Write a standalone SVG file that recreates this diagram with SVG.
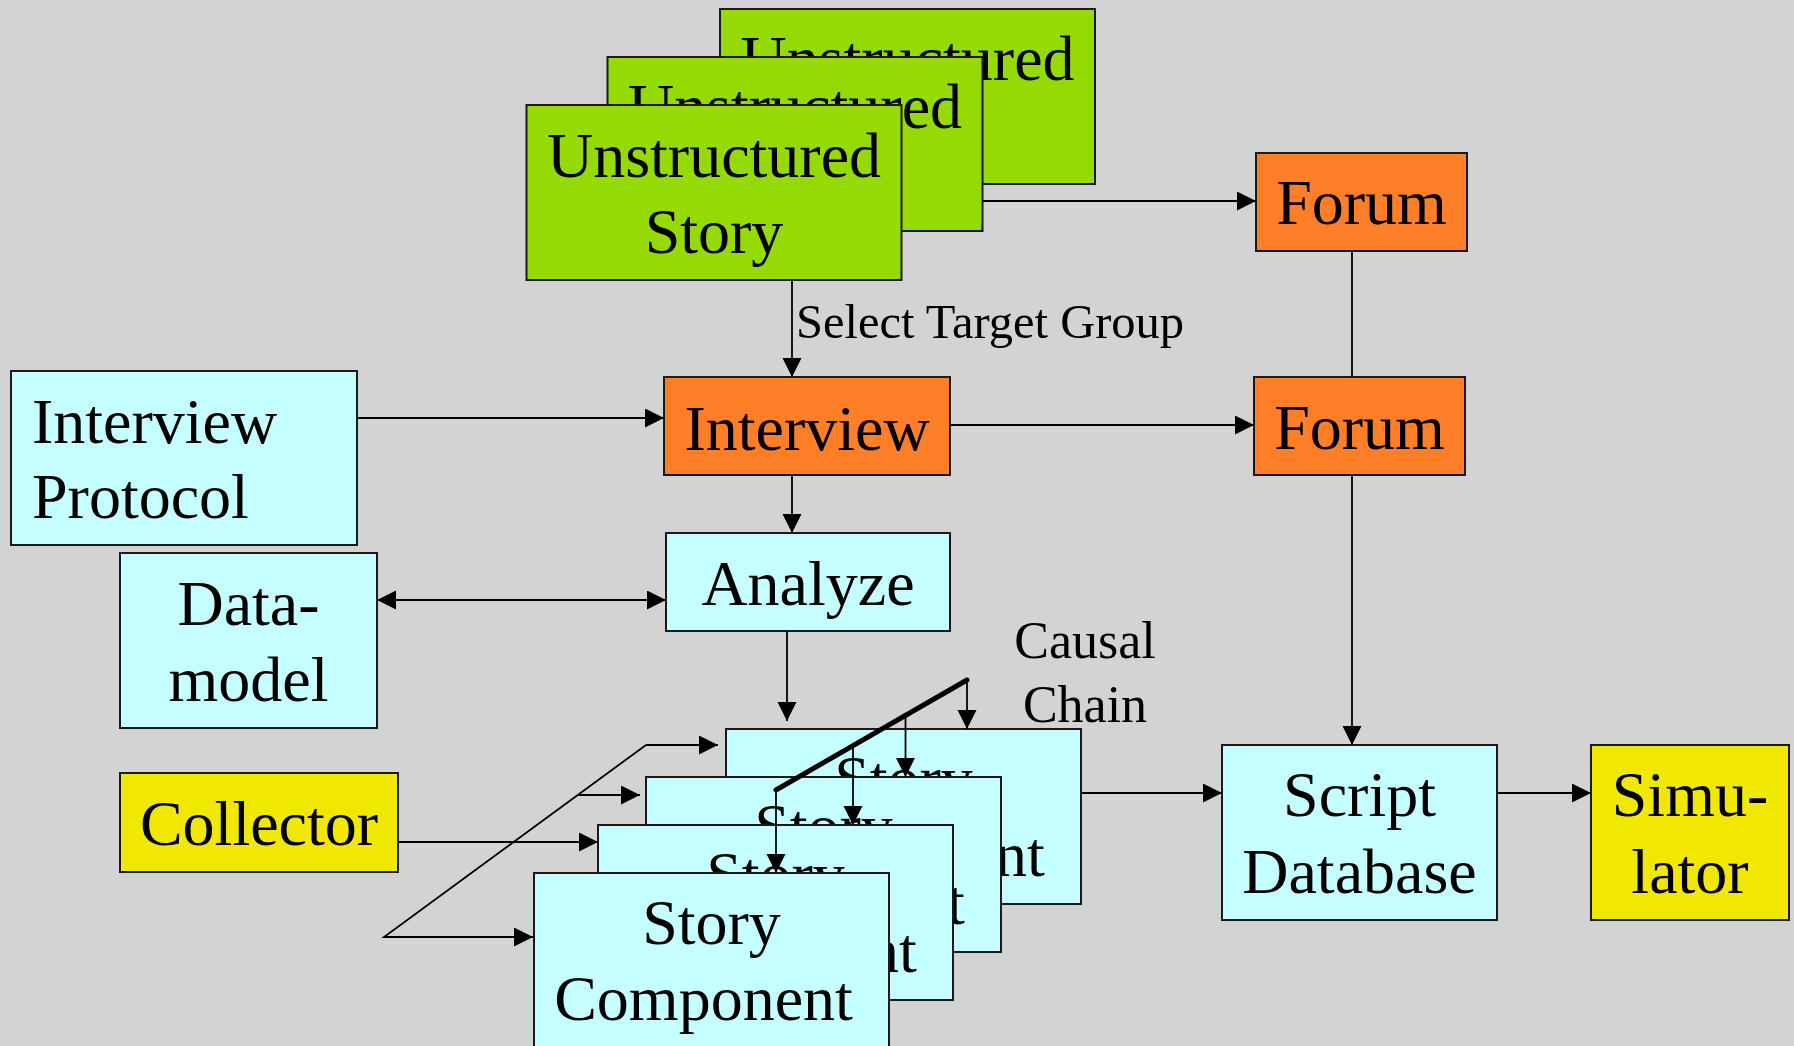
<svg xmlns="http://www.w3.org/2000/svg" width="1794" height="1046" viewBox="0 0 1794 1046">
  <style>
    .box { stroke: #1a1a1a; stroke-width: 2; }
    .green { fill: #95da04; }
    .orange { fill: #ff7f29; }
    .cyan { fill: #c6ffff; }
    .yellow { fill: #f0e800; }
    .lbl { font-family: "Liberation Serif", "Times New Roman", serif; font-size: 64px; fill: #000; text-anchor: middle; }
    .left { text-anchor: start; }
    .note { font-family: "Liberation Serif", "Times New Roman", serif; fill: #000; }
    .wire { fill: none; stroke: #000; stroke-width: 1.8; }
    .arrow { marker-end: url(#head); }
    .both { marker-start: url(#head); marker-end: url(#head); }
    .chain { fill: none; stroke: #000; stroke-width: 5; stroke-linecap: round; }
  </style>
  <defs>
    <marker id="head" markerUnits="userSpaceOnUse" markerWidth="20" markerHeight="20" refX="19" refY="9.5" orient="auto-start-reverse">
      <path d="M0,0 L19,9.5 L0,19 z" fill="#000"/>
    </marker>
  </defs>

  <rect x="0" y="0" width="1794" height="1046" fill="#d3d3d3"/>

  <!-- stacked unstructured stories, back to front -->
  <g id="unstructured-story-3">
    <rect class="box green" x="720" y="9" width="375" height="175"/>
    <text class="lbl" x="907.5" y="80">Unstructured</text>
  </g>
  <g id="unstructured-story-2">
    <rect class="box green" x="607.5" y="57" width="375" height="174"/>
    <text class="lbl" x="795" y="128">Unstructured</text>
  </g>
  <g id="unstructured-story-1">
    <rect class="box green" x="526.5" y="105" width="375" height="175"/>
    <text class="lbl" x="714" y="177">Unstructured</text>
    <text class="lbl" x="714" y="253">Story</text>
  </g>

  <g id="forum-top">
    <rect class="box orange" x="1256" y="153" width="211" height="98"/>
    <text class="lbl" x="1361.5" y="224">Forum</text>
  </g>

  <g id="interview-protocol">
    <rect class="box cyan" x="11" y="371" width="346" height="174"/>
    <text class="lbl left" x="32" y="443">Interview</text>
    <text class="lbl left" x="32" y="518">Protocol</text>
  </g>

  <g id="interview">
    <rect class="box orange" x="664" y="377" width="286" height="98"/>
    <text class="lbl" x="807" y="450">Interview</text>
  </g>

  <g id="forum-bottom">
    <rect class="box orange" x="1254" y="377" width="211" height="98"/>
    <text class="lbl" x="1359.5" y="449">Forum</text>
  </g>

  <g id="data-model">
    <rect class="box cyan" x="120" y="553" width="257" height="175"/>
    <text class="lbl" x="248.5" y="625">Data-</text>
    <text class="lbl" x="248.5" y="701">model</text>
  </g>

  <g id="analyze">
    <rect class="box cyan" x="666" y="533" width="284" height="98"/>
    <text class="lbl" x="808" y="605">Analyze</text>
  </g>

  <g id="collector">
    <rect class="box yellow" x="120" y="773" width="278" height="99"/>
    <text class="lbl" x="259" y="845">Collector</text>
  </g>

  <!-- stacked story components, back to front -->
  <g id="story-component-4">
    <rect class="box cyan" x="726" y="729" width="355" height="175"/>
    <text class="lbl" x="903.5" y="800">Story</text>
    <text class="lbl" x="895.5" y="876">Component</text>
  </g>
  <g id="story-component-3">
    <rect class="box cyan" x="646" y="777" width="355" height="175"/>
    <text class="lbl" x="823.5" y="848">Story</text>
    <text class="lbl" x="815.5" y="924">Component</text>
  </g>
  <g id="story-component-2">
    <rect class="box cyan" x="598" y="825" width="355" height="175"/>
    <text class="lbl" x="775.5" y="896">Story</text>
    <text class="lbl" x="767.5" y="972">Component</text>
  </g>
  <g id="story-component-1">
    <rect class="box cyan" x="534" y="873" width="355" height="176"/>
    <text class="lbl" x="711.5" y="944">Story</text>
    <text class="lbl" x="703.5" y="1020">Component</text>
  </g>

  <g id="script-database">
    <rect class="box cyan" x="1222" y="745" width="275" height="175"/>
    <text class="lbl" x="1359.5" y="816">Script</text>
    <text class="lbl" x="1359.5" y="893">Database</text>
  </g>

  <g id="simulator">
    <rect class="box yellow" x="1591" y="745" width="198" height="175"/>
    <text class="lbl" x="1690" y="816">Simu-</text>
    <text class="lbl" x="1690" y="893">lator</text>
  </g>

  <g id="connectors">
    <!-- stories feed the forum and the interview -->
    <line class="wire arrow" x1="983" y1="201" x2="1256" y2="201"/>
    <line class="wire arrow" x1="792" y1="280" x2="792" y2="377"/>
    <text class="note" x="796" y="338" font-size="48.5">Select Target Group</text>
    <line class="wire" x1="1352" y1="251" x2="1352" y2="377"/>

    <!-- interview flow -->
    <line class="wire arrow" x1="357" y1="418" x2="664" y2="418"/>
    <line class="wire arrow" x1="950" y1="425" x2="1254" y2="425"/>
    <line class="wire arrow" x1="792" y1="475" x2="792" y2="533"/>
    <line class="wire both" x1="377" y1="600" x2="666" y2="600"/>
    <line class="wire arrow" x1="787" y1="631" x2="787" y2="721"/>
    <line class="wire arrow" x1="1352" y1="475" x2="1352" y2="745"/>

    <!-- collector fan-out into the story components -->
    <polyline class="wire arrow" points="646,745 384,937 533,937"/>
    <line class="wire arrow" x1="646" y1="745" x2="718" y2="745"/>
    <line class="wire arrow" x1="578" y1="795" x2="640" y2="795"/>
    <line class="wire arrow" x1="398" y1="842" x2="598" y2="842"/>

    <!-- causal chain -->
    <line class="chain" x1="967" y1="680" x2="776" y2="790"/>
    <line class="wire arrow" x1="967" y1="680" x2="967" y2="729"/>
    <line class="wire arrow" x1="905.5" y1="715" x2="905.5" y2="777"/>
    <line class="wire arrow" x1="853" y1="745" x2="853" y2="825"/>
    <line class="wire arrow" x1="776" y1="790" x2="776" y2="873"/>
    <text class="note" x="1085" y="658" font-size="52" text-anchor="middle">Causal</text>
    <text class="note" x="1085" y="722" font-size="52" text-anchor="middle">Chain</text>

    <!-- into the script database and on to the simulator -->
    <line class="wire arrow" x1="1081" y1="793" x2="1222" y2="793"/>
    <line class="wire arrow" x1="1497" y1="793" x2="1591" y2="793"/>
  </g>
</svg>
